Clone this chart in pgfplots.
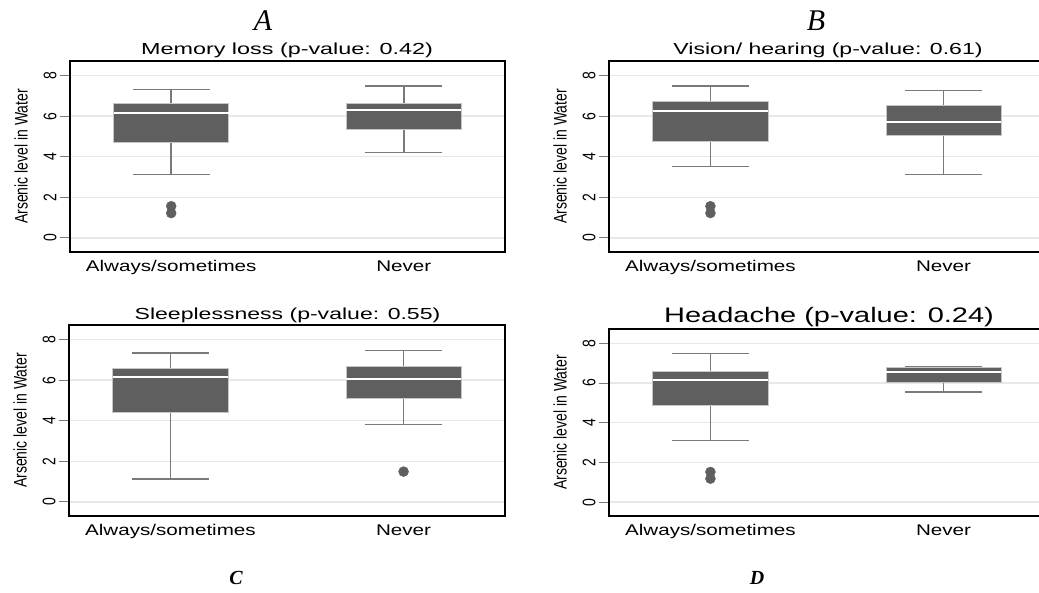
\documentclass[border=0pt]{standalone}
\usepackage{pgfplots}
\pgfplotsset{compat=1.18}
\usepgfplotslibrary{statistics}
\usepackage{graphicx}
\usepackage{fontspec}
\setmainfont{Liberation Sans}
\newfontfamily\serif{Liberation Serif}

\definecolor{boxgray}{HTML}{5F5F5F}
\definecolor{whisk}{HTML}{7A7A7A}
\definecolor{gridgray}{HTML}{E8E8E8}

% the source figure is stretched sideways, so is its text
\newcommand\hs[2]{\scalebox{#1}[1]{#2}}
\newcommand\vs[1]{\scalebox{1}[1.3]{#1}}

\pgfplotsset{
  panel/.style={
    scale only axis,
    anchor=south west,
    xmin=0.565, xmax=2.435,
    ymin=-0.7, ymax=8.72,
    xtick={1,2},
    xticklabels={\hs{1.33}{Always/sometimes},\hs{1.33}{Never}},
    xtick style={draw=none},
    xticklabel style={font=\fontsize{15.5}{17}\selectfont, yshift=5pt},
    ytick={0,2,4,6,8},
    ytick pos=left,
    yticklabels={\vs{0},\vs{2},\vs{4},\vs{6},\vs{8}},
    yticklabel style={rotate=90, anchor=south, font=\fontsize{14}{16}\selectfont},
    tick align=outside,
    major tick length=10pt,
    ytick style={color=whisk, line width=1pt},
    ymajorgrids,
    grid style={gridgray, line width=1.5pt},
    axis line style={line width=1.8pt, black},
    ylabel={\vs{Arsenic level in Water}},
    ylabel style={font=\fontsize{14}{16}\selectfont, at={(axis description cs:0,0.5)}, anchor=center, rotate=0, yshift=49pt},
    boxplot/draw direction=y,
    boxplot/box extend=0.494,
    boxplot/whisker extend=0.33,
    boxplot/every box/.style={fill=boxgray, draw=gray!45, line width=0.8pt},
    boxplot/every median/.style={draw=white, line width=2pt},
    boxplot/every whisker/.style={draw=whisk, line width=1.5pt},
  },
  bx/.style={solid, mark=*, mark size=5pt, mark options={fill=boxgray, draw=boxgray}},
}

\begin{document}
\begin{tikzpicture}
\useasboundingbox (0pt,0pt) rectangle (1039pt,-592pt);

% A: memory loss
\begin{axis}[panel, at={(70pt,-252pt)}, width=435pt, height=191pt]
\addplot[bx, boxplot prepared={draw position=1, lower whisker=3.12, lower quartile=4.71,
  median=6.14, upper quartile=6.62, upper whisker=7.32}] coordinates {(1,1.56) (1,1.22)};
\addplot[bx, boxplot prepared={draw position=2, lower whisker=4.20, lower quartile=5.34,
  median=6.32, upper quartile=6.62, upper whisker=7.49}] coordinates {};
\end{axis}

% B: vision / hearing
\begin{axis}[panel, at={(609pt,-252pt)}, width=436pt, height=191pt]
\addplot[bx, boxplot prepared={draw position=1, lower whisker=3.51, lower quartile=4.76,
  median=6.27, upper quartile=6.72, upper whisker=7.49}] coordinates {(1,1.56) (1,1.22)};
\addplot[bx, boxplot prepared={draw position=2, lower whisker=3.12, lower quartile=5.04,
  median=5.71, upper quartile=6.54, upper whisker=7.27}] coordinates {};
\end{axis}

% C: sleeplessness
\begin{axis}[panel, at={(69pt,-516pt)}, width=436pt, height=191pt]
\addplot[bx, boxplot prepared={draw position=1, lower whisker=1.12, lower quartile=4.40,
  median=6.18, upper quartile=6.57, upper whisker=7.33}] coordinates {};
\addplot[bx, boxplot prepared={draw position=2, lower whisker=3.81, lower quartile=5.11,
  median=6.08, upper quartile=6.67, upper whisker=7.46}] coordinates {(2,1.49)};
\end{axis}

% D: headache
\begin{axis}[panel, at={(609pt,-516pt)}, width=436pt, height=187pt]
\addplot[bx, boxplot prepared={draw position=1, lower whisker=3.11, lower quartile=4.86,
  median=6.13, upper quartile=6.60, upper whisker=7.49}] coordinates {(1,1.52) (1,1.18)};
\addplot[bx, boxplot prepared={draw position=2, lower whisker=5.55, lower quartile=6.04,
  median=6.57, upper quartile=6.77, upper whisker=6.82}] coordinates {};
\end{axis}

\node[font=\fontsize{16}{18}\selectfont, anchor=base] at (287pt,-54.5pt) {\hs{1.46}{Memory loss (p-value: 0.42)}};
\node[font=\fontsize{16}{18}\selectfont, anchor=base] at (828pt,-54.5pt) {\hs{1.44}{Vision/ hearing (p-value: 0.61)}};
\node[font=\fontsize{16}{18}\selectfont, anchor=base] at (287.5pt,-319.3pt) {\hs{1.44}{Sleeplessness (p-value: 0.55)}};
\node[font=\fontsize{21}{23}\selectfont, anchor=base] at (829pt,-322.7pt) {\hs{1.38}{Headache (p-value: 0.24)}};

\node[font=\serif\itshape\fontsize{30}{32}\selectfont] at (263pt,-20.5pt) {A};
\node[font=\serif\itshape\fontsize{30}{32}\selectfont] at (816pt,-20.5pt) {B};
\node[font=\serif\bfseries\itshape\fontsize{20}{22}\selectfont] at (236pt,-578pt) {C};
\node[font=\serif\bfseries\itshape\fontsize{20}{22}\selectfont] at (757pt,-578pt) {D};
\end{tikzpicture}
\end{document}
